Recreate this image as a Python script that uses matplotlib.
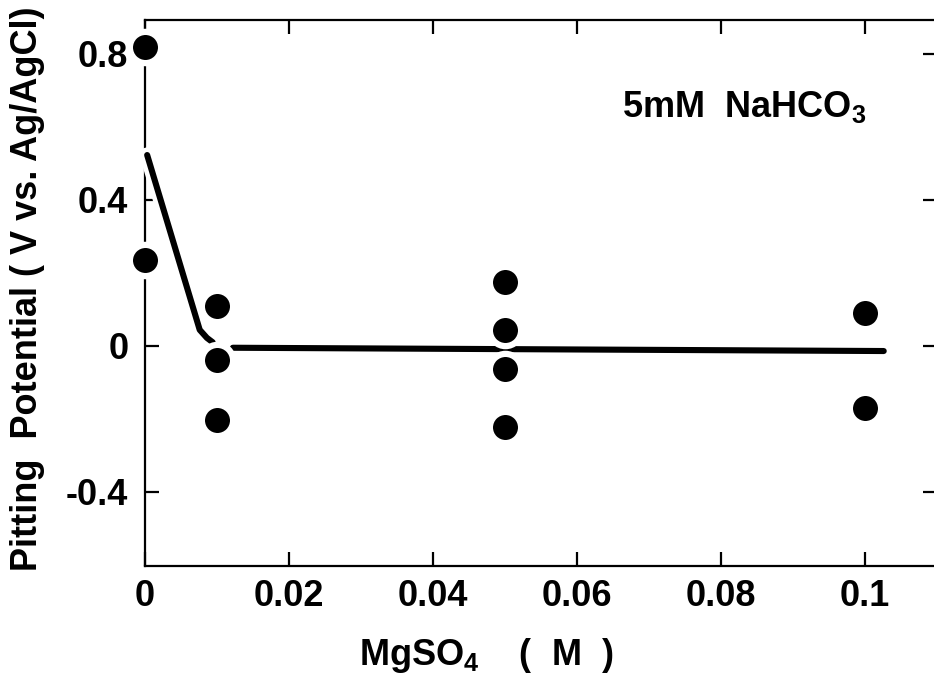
import matplotlib
matplotlib.use("Agg")
import matplotlib.pyplot as plt
import matplotlib.patheffects as pe

plt.rcParams['font.family'] = ['Liberation Sans', 'DejaVu Sans']
plt.rcParams['font.weight'] = 'bold'
plt.rcParams['mathtext.fontset'] = 'custom'
plt.rcParams['mathtext.rm'] = 'Liberation Sans:bold'
plt.rcParams['mathtext.default'] = 'rm'

# Measured pitting potentials
conc_x = [0.0, 0.0, 0.01, 0.01, 0.01, 0.05, 0.05, 0.05, 0.05, 0.1, 0.1]
potential_y = [0.82, 0.235, 0.11, -0.038, -0.203, 0.175, 0.044, -0.063, -0.222, 0.09, -0.17]

# Hand-drawn trend curve (two segments)
curve1_x = [0.0003, 0.0076, 0.0086, 0.0094]
curve1_y = [0.523, 0.044, 0.022, 0.01]
curve2_x = [0.0122, 0.1026]
curve2_y = [-0.005, -0.014]

xticks = [0, 0.02, 0.04, 0.06, 0.08, 0.1]
xticklabels = ['0', '0.02', '0.04', '0.06', '0.08', '0.1']
yticks = [-0.4, 0, 0.4, 0.8]
yticklabels = ['-0.4', '0', '0.4', '0.8']

fig = plt.figure(figsize=(9.34, 6.81), dpi=100)
ax = fig.add_axes([145/934, 1-566/681, (937-145)/934, (566-20)/681])
ax.set_xlim(0, 0.11)
ax.set_ylim(-0.603, 0.893)

halo = [pe.Stroke(linewidth=11, foreground='white'), pe.Normal()]
for cx, cy in [(curve1_x, curve1_y), (curve2_x, curve2_y)]:
    ax.plot(cx, cy, color='black', lw=4.4, solid_capstyle='round',
            solid_joinstyle='round', zorder=5, clip_on=False, path_effects=halo)

ax.plot(conc_x, potential_y, linestyle='none', marker='o', ms=22.5,
        markerfacecolor='black', markeredgecolor='white', mew=4.5,
        zorder=6, clip_on=False)

for s in ax.spines.values():
    s.set_linewidth(1.6)
    s.set_zorder(2)

ax.set_xticks(xticks)
ax.set_xticklabels(xticklabels)
ax.set_yticks(yticks)
ax.set_yticklabels(yticklabels)
ax.tick_params(direction='in', length=10, width=1.6, top=True, right=True,
               labelsize=26)
ax.tick_params(axis='x', pad=9)
ax.tick_params(axis='y', pad=12)

fig.text(28/934, 1-289/681, 'Pitting  Potential ( V vs. Ag/AgCl)', rotation=90,
         ha='center', va='center', fontsize=26)
fig.text(486/934, 1-665/681, r'MgSO$_4$    (  M  )', ha='center', va='baseline',
         fontsize=26)
ax.text((622-145)/792, (566-117)/546, r'5mM  NaHCO$_3$', transform=ax.transAxes,
        ha='left', va='baseline', fontsize=26)

fig.savefig('out.png', dpi=100)
